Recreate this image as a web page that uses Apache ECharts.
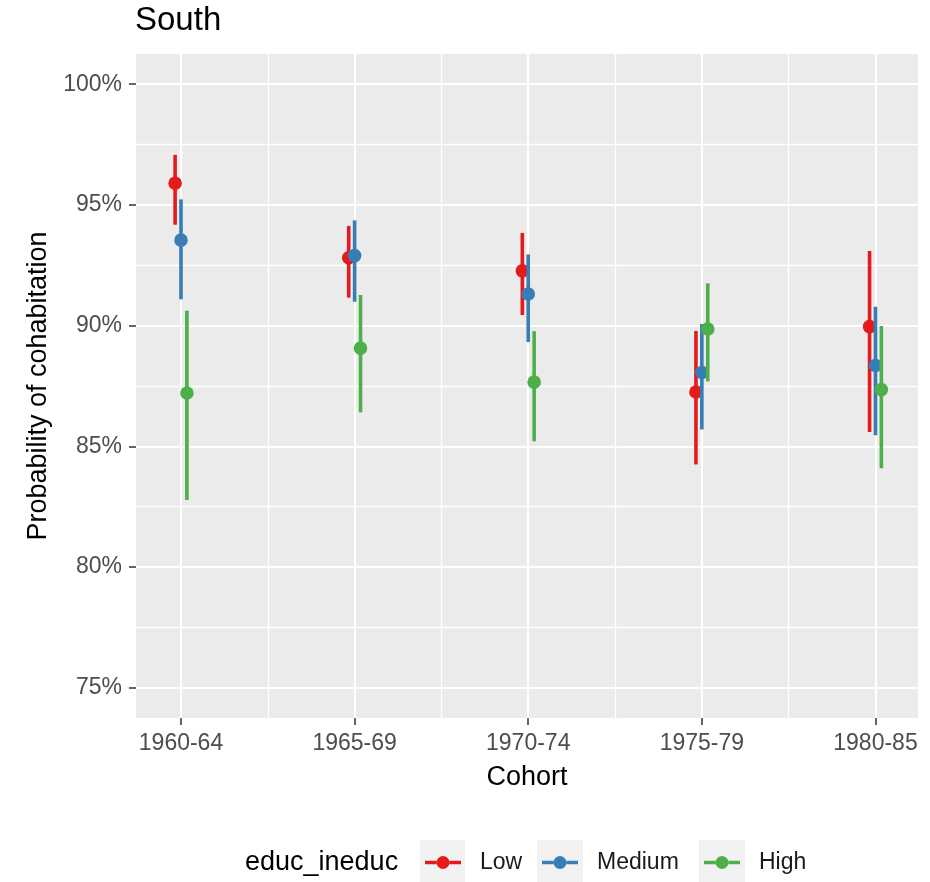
<!DOCTYPE html>
<html>
<head>
<meta charset="utf-8">
<script src="https://cdn.jsdelivr.net/npm/echarts@6/dist/echarts.min.js"></script>
<style>
  html, body { margin: 0; padding: 0; background: #ffffff; }
  #chart { width: 930px; height: 882px; }
</style>
</head>
<body>
<div id="chart"></div>
<script>
// Birth cohorts on the x axis
const cohorts = ['1960-64', '1965-69', '1970-74', '1975-79', '1980-85'];

// Predicted probability of cohabitation (%) with lower / upper bounds, by education
const lowEst    = [95.90, 92.81, 92.27, 87.25, 89.96];
const lowLower  = [94.18, 91.16, 90.44, 84.25, 85.60];
const lowUpper  = [97.07, 94.13, 93.84, 89.78, 93.09];

const medEst    = [93.54, 92.90, 91.31, 88.06, 88.35];
const medLower  = [91.09, 90.99, 89.32, 85.70, 85.46];
const medUpper  = [95.23, 94.36, 92.95, 90.07, 90.78];

const highEst   = [87.21, 89.07, 87.66, 89.86, 87.35];
const highLower = [82.78, 86.41, 85.21, 87.69, 84.09];
const highUpper = [90.62, 91.27, 89.77, 91.75, 89.99];

// y axis ticks (%)
const yTicks = [75, 80, 85, 90, 95, 100];
const yMinor = [77.5, 82.5, 87.5, 92.5, 97.5];

const groups = [
  { name: 'Low',    color: '#E41A1C', est: lowEst,  lo: lowLower,  hi: lowUpper,  dodge: -0.034 },
  { name: 'Medium', color: '#377EB8', est: medEst,  lo: medLower,  hi: medUpper,  dodge: 0 },
  { name: 'High',   color: '#4DAF4A', est: highEst, lo: highLower, hi: highUpper, dodge: 0.034 }
];

const FONT = '"Liberation Sans", Arial, sans-serif';
const catPos = cohorts.map((c, i) => i + 1);
const catMid = cohorts.slice(1).map((c, i) => i + 1.5);

// legend key: a short segment with a dot in the middle
const keyIcon = 'path://M0,5.2 L11.5,5.2 L11.5,8.8 L0,8.8 Z M24.5,5.2 L36,5.2 L36,8.8 L24.5,8.8 Z ' +
                'M11.5,7 A6.5,6.5 0 1 1 24.5,7 A6.5,6.5 0 1 1 11.5,7 Z';

function pointRange(color) {
  return function (params, api) {
    const x = api.value(0);
    const top = api.coord([x, api.value(3)]);
    const bot = api.coord([x, api.value(2)]);
    const mid = api.coord([x, api.value(1)]);
    return {
      type: 'group',
      children: [
        { type: 'line', shape: { x1: top[0], y1: top[1], x2: bot[0], y2: bot[1] },
          style: { stroke: color, lineWidth: 3.6 } },
        { type: 'circle', shape: { cx: mid[0], cy: mid[1], r: 6.8 },
          style: { fill: color } }
      ]
    };
  };
}

const series = groups.map(g => ({
  name: g.name,
  type: 'custom',
  xAxisIndex: 0,
  yAxisIndex: 0,
  renderItem: pointRange(g.color),
  itemStyle: { color: g.color },
  encode: { x: 0, y: [1, 2, 3] },
  data: cohorts.map((c, i) => [i + 1 + g.dodge, g.est[i], g.lo[i], g.hi[i]])
}));

const legendLefts = [425, 542, 704];
const legends = groups.map((g, i) => ({
  show: true,
  data: [{ name: g.name, icon: keyIcon }],
  left: legendLefts[i],
  top: 851,
  padding: 0,
  itemWidth: 36,
  itemHeight: 14,
  selectedMode: false,
  textStyle: { fontFamily: FONT, fontSize: 23, color: '#1a1a1a', padding: [0, 0, 0, 14] }
}));

const xBase = {
  type: 'value',
  min: 0.7408,
  max: 5.245,
  gridIndex: 0
};
const yBase = {
  type: 'value',
  min: 73.75,
  max: 101.25,
  gridIndex: 0
};

const option = {
  backgroundColor: '#ffffff',
  animation: false,
  title: [
    { text: 'South', left: 135, top: 4, padding: 0,
      textStyle: { fontFamily: FONT, fontSize: 33, fontWeight: 'normal', color: '#000' } },
    { text: 'educ_ineduc', left: 245, top: 849, padding: 0,
      textStyle: { fontFamily: FONT, fontSize: 27, fontWeight: 'normal', color: '#000' } }
  ],
  legend: legends,
  graphic: [
    { type: 'rect', left: 420, top: 840, shape: { width: 45, height: 45 }, style: { fill: '#F2F2F2' }, z: -1 },
    { type: 'rect', left: 537, top: 840, shape: { width: 46, height: 45 }, style: { fill: '#F2F2F2' }, z: -1 },
    { type: 'rect', left: 699, top: 840, shape: { width: 46, height: 45 }, style: { fill: '#F2F2F2' }, z: -1 }
  ],
  grid: {
    left: 136, right: 12, top: 54, height: 664,
    show: true, backgroundColor: '#EBEBEB', borderWidth: 0
  },
  xAxis: [
    Object.assign({}, xBase, {
      position: 'bottom',
      name: 'Cohort',
      nameLocation: 'middle',
      nameGap: 46,
      nameTextStyle: { fontFamily: FONT, fontSize: 27, color: '#000' },
      axisLine: { show: false },
      axisTick: { show: true, customValues: catPos, length: 7, lineStyle: { color: '#333333', width: 1.5 } },
      axisLabel: { customValues: catPos, margin: 14, fontFamily: FONT, fontSize: 23, color: '#4D4D4D',
                   formatter: v => cohorts[Math.round(v) - 1] },
      splitLine: { show: true, lineStyle: { color: '#ffffff', width: 2 } }
    }),
    Object.assign({}, xBase, {
      position: 'bottom',
      axisLine: { show: false },
      axisTick: { show: false, customValues: catMid },
      axisLabel: { show: false, customValues: catMid },
      splitLine: { show: true, lineStyle: { color: '#ffffff', width: 1.3 } }
    })
  ],
  yAxis: [
    Object.assign({}, yBase, {
      position: 'left',
      name: 'Probability of cohabitation',
      nameLocation: 'middle',
      nameGap: 79,
      nameTextStyle: { fontFamily: FONT, fontSize: 27, color: '#000' },
      axisLine: { show: false },
      axisTick: { show: true, customValues: yTicks, length: 7, lineStyle: { color: '#333333', width: 1.5 } },
      axisLabel: { customValues: yTicks, margin: 14, fontFamily: FONT, fontSize: 23, color: '#4D4D4D',
                   formatter: v => v + '%' },
      splitLine: { show: true, lineStyle: { color: '#ffffff', width: 2 } }
    }),
    Object.assign({}, yBase, {
      position: 'left',
      axisLine: { show: false },
      axisTick: { show: false, customValues: yMinor },
      axisLabel: { show: false, customValues: yMinor },
      splitLine: { show: true, lineStyle: { color: '#ffffff', width: 1.3 } }
    })
  ],
  series: series
};

const chart = echarts.init(document.getElementById('chart'), null, { renderer: 'canvas' });
chart.setOption(option);
</script>
</body>
</html>
